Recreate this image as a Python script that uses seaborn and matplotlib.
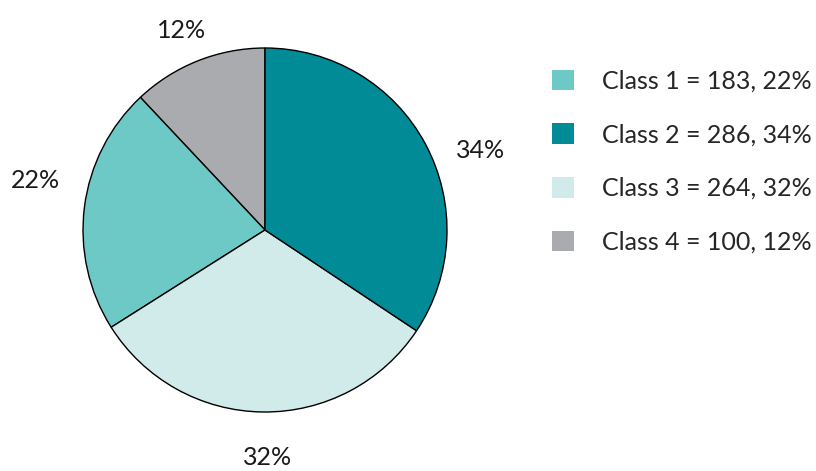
import numpy as np
import matplotlib.pyplot as plt
import seaborn as sns
from matplotlib.patches import Patch

# %% Data
classes = ["Class 1", "Class 2", "Class 3", "Class 4"]
counts = [183, 286, 264, 100]
pcts = [22, 34, 32, 12]
colors = ["#6cc9c6", "#008b96", "#d0ebea", "#aaabaf"]

# order the slices are drawn in (counter-clockwise from the top)
pie_order = [3, 0, 2, 1]

# label placement tweaks per class: (angle shift in degrees, radial distance)
label_place = {0: (-5.0, 1.29), 1: (-8.0, 1.26), 2: (1.4, 1.25), 3: (1.0, 1.19)}

sns.set_theme(style="white")
plt.rcParams["font.family"] = ["Lato", "DejaVu Sans"]

fig = plt.figure(figsize=(8.16, 4.71), dpi=100)
ax = fig.add_axes([83 / 816, 59 / 471, 364 / 816, 364 / 471])

wedges, texts = ax.pie(
    [counts[i] for i in pie_order],
    labels=[f"{pcts[i]}%" for i in pie_order],
    colors=[colors[i] for i in pie_order],
    startangle=90,
    counterclock=True,
    wedgeprops={"edgecolor": "black", "linewidth": 1.0},
    textprops={"fontsize": 18, "color": "#1a1a1a"},
)
ax.set_xlim(-1, 1)
ax.set_ylim(-1, 1)
ax.set_aspect("equal")

for w, t, i in zip(wedges, texts, pie_order):
    shift, dist = label_place[i]
    ang = np.deg2rad((w.theta1 + w.theta2) / 2 + shift)
    t.set_position((dist * np.cos(ang), dist * np.sin(ang)))
    t.set_ha("center")
    t.set_va("center")

handles = [Patch(facecolor=c, edgecolor="none") for c in colors]
labels = [f"{n} = {v}, {p}%" for n, v, p in zip(classes, counts, pcts)]
fig.legend(
    handles, labels,
    loc="upper left", bbox_to_anchor=(529 / 816, 1 - 47 / 471),
    frameon=False, fontsize=18,
    handlelength=0.88, handleheight=0.88, handletextpad=1.16,
    labelspacing=1.23,
)

fig.savefig("out.png", dpi=100)
